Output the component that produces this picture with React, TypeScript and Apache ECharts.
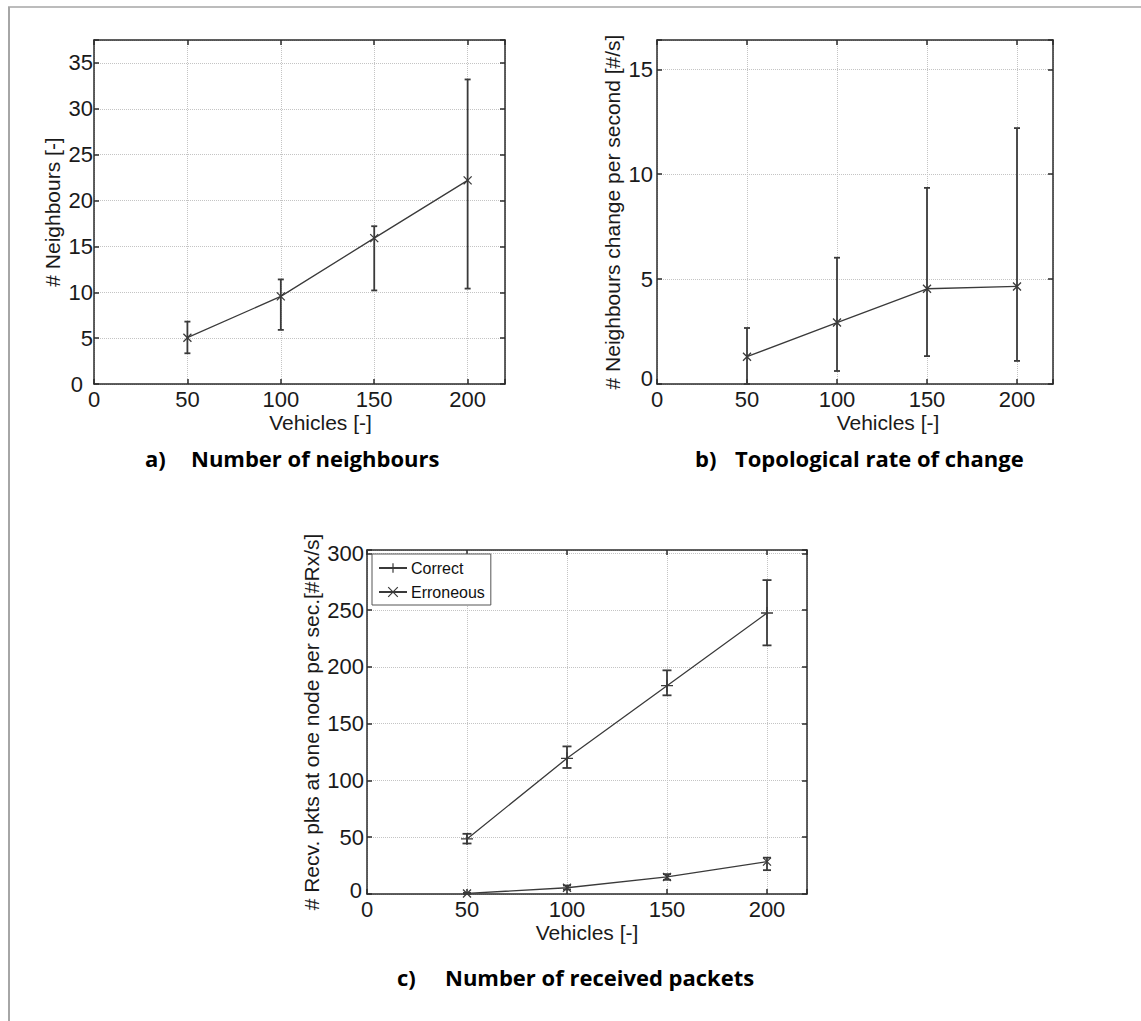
import React, { useEffect, useRef } from "react";
import * as echarts from "echarts";

// ---- data ----
const vehicles = [50, 100, 150, 200];
const xTicks = [0, 50, 100, 150, 200];

const neighboursMean = [5.05, 9.55, 15.9, 22.2];
const neighboursLow = [3.35, 5.9, 10.2, 10.4];
const neighboursHigh = [6.8, 11.4, 17.2, 33.2];

const changeMean = [1.3, 2.93, 4.54, 4.65];
const changeLow = [0, 0.62, 1.33, 1.1];
const changeHigh = [2.67, 6.02, 9.35, 12.2];

const correctMean = [48.5, 119.5, 183.5, 247.5];
const correctLow = [44.5, 111, 175, 219];
const correctHigh = [53, 130, 197, 276.5];

const erroneousMean = [0.5, 5.5, 15, 28.5];
const erroneousLow = [0, 4, 12.5, 21];
const erroneousHigh = [1, 7.5, 17.5, 32];

const yTicksA = [0, 5, 10, 15, 20, 25, 30, 35];
const yTicksB = [0, 5, 10, 15];
const yTicksC = [0, 50, 100, 150, 200, 250, 300];

const seriesNames = ["Correct", "Erroneous"];
const captions = [
  ["a)", "Number of neighbours"],
  ["b)", "Topological rate of change"],
  ["c)", "Number of received packets"],
];

// ---- styles ----
const FONT = "Liberation Sans, Arial, sans-serif";
const CAP_FONT = "Open Sans, Lato, sans-serif";
const AXIS_COLOR = "#2b2b2b";
const DATA_COLOR = "#3a3a3a";
const TEXT_COLOR = "#1a1a1a";
const X_SYMBOL = "path://M0,0L10,10M10,0L0,10";
const PLUS_SYMBOL = "path://M0,5L10,5M5,0L5,10";

const xFmt = (v: number) => (xTicks.some((t) => Math.abs(t - v) < 1e-9) ? String(v) : "");
const yFmt = (ticks: number[]) => (v: number) => {
  if (Math.abs(v) < 1e-9) return "{z|0}";
  return ticks.some((t) => Math.abs(t - v) < 1e-9) ? String(v) : "";
};

function xAxes(gridIndex: number, namePadLeft: number) {
  return [
    {
      type: "value",
      gridIndex,
      position: "bottom",
      min: 0,
      max: 220,
      interval: 50,
      name: "Vehicles [-]",
      nameLocation: "middle",
      nameGap: 26,
      nameTextStyle: {
        fontFamily: FONT,
        fontSize: 21,
        color: TEXT_COLOR,
        lineHeight: 24,
        padding: [0, 0, 0, namePadLeft],
      },
      axisLine: { show: true, onZero: false, lineStyle: { color: AXIS_COLOR, width: 1.5 } },
      axisTick: { show: true, inside: true, length: 5, lineStyle: { color: AXIS_COLOR, width: 1.5 } },
      axisLabel: {
        show: true,
        margin: 4,
        fontFamily: FONT,
        fontSize: 22,
        color: TEXT_COLOR,
        formatter: xFmt,
      },
      splitLine: { show: true, lineStyle: { color: "#c4c4c4", type: "dotted", width: 1 } },
    },
    {
      type: "value",
      gridIndex,
      position: "top",
      min: 0,
      max: 220,
      interval: 50,
      axisLine: { show: true, onZero: false, lineStyle: { color: AXIS_COLOR, width: 1.5 } },
      axisTick: { show: true, inside: true, length: 5, lineStyle: { color: AXIS_COLOR, width: 1.5 } },
      axisLabel: { show: false },
      splitLine: { show: false },
    },
  ];
}

function yAxes(
  gridIndex: number,
  max: number,
  interval: number,
  ticks: number[],
  name: string,
  nameGap: number,
  margin: number,
  zeroPad: number[]
) {
  return [
    {
      type: "value",
      gridIndex,
      position: "left",
      min: 0,
      max,
      interval,
      name,
      nameLocation: "middle",
      nameGap,
      nameTextStyle: { fontFamily: FONT, fontSize: 21, color: TEXT_COLOR, lineHeight: 24 },
      axisLine: { show: true, onZero: false, lineStyle: { color: AXIS_COLOR, width: 1.5 } },
      axisTick: { show: true, inside: true, length: 5, lineStyle: { color: AXIS_COLOR, width: 1.5 } },
      axisLabel: {
        show: true,
        margin,
        fontFamily: FONT,
        fontSize: 22,
        color: TEXT_COLOR,
        formatter: yFmt(ticks),
        rich: {
          z: { fontFamily: FONT, fontSize: 22, color: TEXT_COLOR, padding: zeroPad },
        },
      },
      splitLine: { show: true, lineStyle: { color: "#c4c4c4", type: "dotted", width: 1 } },
    },
    {
      type: "value",
      gridIndex,
      position: "right",
      min: 0,
      max,
      interval,
      axisLine: { show: true, onZero: false, lineStyle: { color: AXIS_COLOR, width: 1.5 } },
      axisTick: { show: true, inside: true, length: 5, lineStyle: { color: AXIS_COLOR, width: 1.5 } },
      axisLabel: { show: false },
      splitLine: { show: false },
    },
  ];
}

function errorSeries(axisIndex: number, low: number[], high: number[], capHalf: number) {
  return {
    type: "custom",
    xAxisIndex: axisIndex,
    yAxisIndex: axisIndex,
    silent: true,
    z: 3,
    data: vehicles.map((v, i) => [v, low[i], high[i]]),
    encode: { x: 0, y: [1, 2] },
    renderItem: (_params: any, api: any) => {
      const x = api.value(0);
      const p1 = api.coord([x, api.value(1)]);
      const p2 = api.coord([x, api.value(2)]);
      const style = { stroke: DATA_COLOR, lineWidth: 1.8, fill: "none" };
      return {
        type: "group",
        children: [
          { type: "line", shape: { x1: p1[0], y1: p1[1], x2: p2[0], y2: p2[1] }, style },
          { type: "line", shape: { x1: p1[0] - capHalf, y1: p1[1], x2: p1[0] + capHalf, y2: p1[1] }, style },
          { type: "line", shape: { x1: p2[0] - capHalf, y1: p2[1], x2: p2[0] + capHalf, y2: p2[1] }, style },
        ],
      };
    },
  };
}

function lineSeries(axisIndex: number, values: number[], symbol: string, size: number, name?: string) {
  return {
    type: "line",
    name,
    xAxisIndex: axisIndex,
    yAxisIndex: axisIndex,
    data: vehicles.map((v, i) => [v, values[i]]),
    symbol,
    symbolSize: size,
    showSymbol: true,
    z: 4,
    lineStyle: { color: DATA_COLOR, width: 1.3 },
    itemStyle: { color: DATA_COLOR, borderColor: DATA_COLOR, borderWidth: 1.3 },
    emphasis: { disabled: true },
  };
}

function captionTexts(idx: number, xLetter: number, xText: number, y: number) {
  const style = { fontFamily: CAP_FONT, fontWeight: "bold", fontSize: 22, fill: "#000", verticalAlign: "middle" };
  return [
    { type: "text", x: xLetter, y, style: { ...style, text: captions[idx][0] } },
    { type: "text", x: xText, y, style: { ...style, text: captions[idx][1] } },
  ];
}

export default function App() {
  const ref = useRef<HTMLDivElement>(null);

  useEffect(() => {
    if (!ref.current) return;
    const chart = echarts.init(ref.current, undefined, { renderer: "svg" });
    const option: any = {
      animation: false,
      backgroundColor: "#ffffff",
      grid: [
        { left: 94, top: 40, width: 411, height: 344, containLabel: false },
        { left: 657, top: 40, width: 396, height: 344, containLabel: false },
        { left: 367, top: 550, width: 440, height: 344, containLabel: false },
      ],
      xAxis: [...xAxes(0, 42), ...xAxes(1, 66), ...xAxes(2, 0)],
      yAxis: [
        ...yAxes(0, 37.5, 5, yTicksA, "# Neighbours [-]", 28, 1, [0, 10, 0, 0]),
        ...yAxes(1, 16.4, 5, yTicksB, "# Neighbours change per second [#/s]", 25, 4, [0, 0, 12, 0]),
        ...yAxes(2, 303, 50, yTicksC, "# Recv. pkts at one node per sec.[#Rx/s]", 42, 3, [0, 2, 8, 0]),
      ],
      legend: {
        left: 372,
        top: 554,
        orient: "vertical",
        data: seriesNames,
        backgroundColor: "#ffffff",
        borderColor: "#555555",
        borderWidth: 1,
        borderRadius: 0,
        padding: [6, 6, 5, 6],
        itemWidth: 28,
        itemHeight: 12,
        itemGap: 8,
        itemStyle: { borderWidth: 1.2 },
        textStyle: { fontFamily: FONT, fontSize: 16, color: "#111", padding: [0, 0, 0, -1] },
        selectedMode: false,
      },
      series: [
        errorSeries(0, neighboursLow, neighboursHigh, 3),
        lineSeries(0, neighboursMean, X_SYMBOL, 8),
        errorSeries(2, changeLow, changeHigh, 3),
        lineSeries(2, changeMean, X_SYMBOL, 8),
        errorSeries(4, correctLow, correctHigh, 4.5),
        lineSeries(4, correctMean, PLUS_SYMBOL, 12, seriesNames[0]),
        errorSeries(4, erroneousLow, erroneousHigh, 4),
        lineSeries(4, erroneousMean, X_SYMBOL, 8, seriesNames[1]),
      ],
      graphic: [
        { type: "line", shape: { x1: 8, y1: 7, x2: 1141, y2: 7 }, style: { stroke: "#a6a6a6", lineWidth: 1.5 } },
        { type: "line", shape: { x1: 9, y1: 7, x2: 9, y2: 1021 }, style: { stroke: "#a6a6a6", lineWidth: 2 } },
        ...captionTexts(0, 145, 191, 458),
        ...captionTexts(1, 695, 735, 458),
        ...captionTexts(2, 397, 445, 977),
      ],
    };
    chart.setOption(option);
    return () => chart.dispose();
  }, []);

  return (
    <div
      ref={ref}
      style={{ position: "fixed", left: 0, top: 0, width: 1141, height: 1021, background: "#fff" }}
    />
  );
}
